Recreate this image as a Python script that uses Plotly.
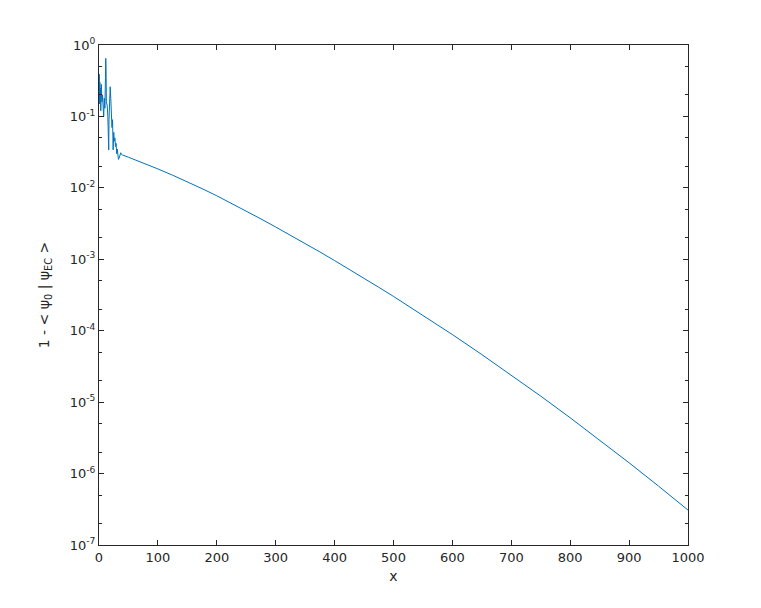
import plotly.graph_objects as go

# Noisy early part
x_noisy = [0, 0.5, 1, 1.5, 2, 2.5, 3, 3.5, 4, 5, 6, 7, 8, 9, 10, 11, 11.5, 12, 12.5, 13,
           14, 15, 16, 16.5, 17, 18, 19, 20, 21, 22, 23, 24, 25, 26, 27, 28, 29, 30, 31,
           32, 33, 34, 35, 36, 37, 38]
y_noisy = [0.2, 0.39, 0.15, 0.3, 0.18, 0.25, 0.12, 0.22, 0.28, 0.16, 0.2, 0.14, 0.1, 0.18,
           0.13, 0.35, 0.65, 0.45, 0.16, 0.15, 0.14, 0.1, 0.05, 0.034, 0.09, 0.16, 0.26,
           0.18, 0.08, 0.07, 0.09, 0.034, 0.06, 0.045, 0.05, 0.038, 0.042, 0.03, 0.035,
           0.028, 0.025, 0.026, 0.028, 0.03, 0.031, 0.0295]

# Smooth part: x and log10(y)
x_smooth = [40, 50, 75, 100, 125, 150, 175, 200, 225, 250, 275, 300, 325, 350, 375,
            400, 425, 450, 475, 500, 550, 600, 650, 700, 750, 800, 850, 900, 950, 1000]
log_y_smooth = [-1.54, -1.571, -1.651, -1.735, -1.823, -1.915, -2.011, -2.111, -2.216,
                -2.324, -2.435, -2.548, -2.662, -2.779, -2.897, -3.018, -3.140, -3.265,
                -3.392, -3.520, -3.783, -4.054, -4.334, -4.621, -4.916, -5.219, -5.530,
                -5.849, -6.176, -6.511]

x_ticks = [0, 100, 200, 300, 400, 500, 600, 700, 800, 900, 1000]
y_exps = [0, -1, -2, -3, -4, -5, -6, -7]

xs = x_noisy + x_smooth
ys = y_noisy + [10 ** v for v in log_y_smooth]

fig = go.Figure()
fig.add_trace(go.Scatter(x=xs, y=ys, mode="lines",
                         line=dict(color="#0072BD", width=1), showlegend=False))

axis_common = dict(showline=True, linecolor="#262626", linewidth=1, mirror="ticks",
                   ticks="inside", tickcolor="#262626", showgrid=False, zeroline=False,
                   tickfont=dict(family="DejaVu Sans", size=13, color="#262626"))

fig.update_xaxes(range=[0, 1000], tickvals=x_ticks, ticklen=5,
                 title=dict(text="x", font=dict(family="DejaVu Sans", size=14, color="#262626"),
                            standoff=7),
                 **axis_common)
fig.update_yaxes(type="log", range=[-7, 0],
                 tickvals=[10 ** e for e in y_exps],
                 ticktext=["10<sup>%d</sup>" % e for e in y_exps],
                 ticklen=5,
                 minor=dict(ticks="inside", ticklen=3, tickcolor="#262626", showgrid=False),
                 title=dict(text="1 - < ψ<sub>0</sub> | ψ<sub>EC</sub> >",
                            font=dict(family="DejaVu Sans", size=14, color="#262626"),
                            standoff=16),
                 **axis_common)

fig.update_layout(width=761, height=608,
                  margin=dict(l=91, r=81, t=37, b=71, autoexpand=False),
                  paper_bgcolor="white", plot_bgcolor="white")

fig.write_html("out.html")
